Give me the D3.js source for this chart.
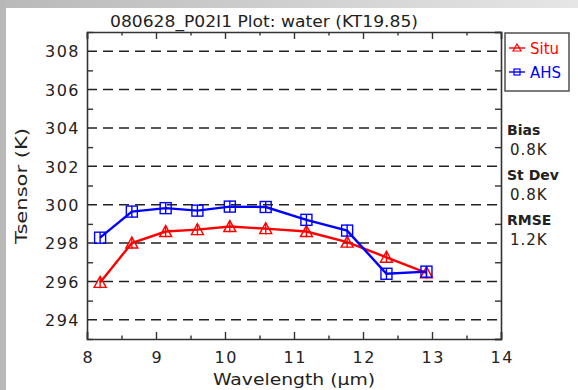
<!DOCTYPE html>
<html>
<head>
<meta charset="utf-8">
<script src="https://cdn.jsdelivr.net/npm/d3@7/dist/d3.min.js"></script>
<style>
  html, body { margin: 0; padding: 0; background: #fff; }
  svg { display: block; }
  text { font-family: "DejaVu Sans", sans-serif; fill: #222; }
</style>
</head>
<body>
<svg id="chart" width="578" height="390"></svg>
<script>
// Band wavelengths (µm) and brightness temperatures (K)
const wavelengths = [8.19, 8.65, 9.14, 9.60, 10.07, 10.59, 11.18, 11.77, 12.34, 12.92];
const situValues  = [295.95, 298.0, 298.6, 298.7, 298.86, 298.75, 298.6, 298.05, 297.26, 296.45];
const ahsValues   = [298.28, 299.64, 299.82, 299.69, 299.9, 299.88, 299.21, 298.65, 296.4, 296.51];
const situErr     = [0.3, 0.3, 0.3, 0.3, 0.3, 0.3, 0.3, 0.3, 0.3, 0.3];
const ahsErr      = [0.3, 0.3, 0.3, 0.3, 0.3, 0.3, 0.3, 0.3, 0.3, 0.3];
const xTicks = [8, 9, 10, 11, 12, 13, 14];
const yTicks = [294, 296, 298, 300, 302, 304, 306, 308];
const statLabels = ["Bias", "St Dev", "RMSE"];
const statValues = ["0.8K", "0.8K", "1.2K"];
const seriesNames = ["Situ", "AHS"];

const svg = d3.select("#chart");

// Window frame: grey strip on the left, grey gradient band on top
const defs = svg.append("defs");
const grad = defs.append("linearGradient").attr("id", "topband");
grad.append("stop").attr("offset", "0%").attr("stop-color", "#b9b9b9");
grad.append("stop").attr("offset", "100%").attr("stop-color", "#e6e6e6");
svg.append("rect").attr("x", 0).attr("y", 0).attr("width", 578).attr("height", 8).attr("fill", "url(#topband)");
svg.append("rect").attr("x", 0).attr("y", 0).attr("width", 6).attr("height", 390).attr("fill", "#b8b8b8");

const plotL = 87, plotR = 501, plotT = 32, plotB = 339;
const x = d3.scaleLinear().domain([8, 14]).range([plotL, plotR]);
const y = d3.scaleLinear().domain([293, 309]).range([plotB, plotT]);

// Dashed horizontal grid at the major temperatures
svg.append("g").selectAll("line").data(yTicks).join("line")
  .attr("x1", plotL).attr("x2", plotR)
  .attr("y1", d => y(d)).attr("y2", d => y(d))
  .attr("stroke", "#222").attr("stroke-width", 1.6)
  .attr("stroke-dasharray", "10,6");

// Axes with inward ticks
const axisColor = "#333";
const xMinor = d3.range(8.5, 14, 1);
const yMinor = d3.range(293, 310, 2);

const bottomAxis = svg.append("g").attr("transform", `translate(0,${plotB})`)
  .call(d3.axisBottom(x).tickValues(xTicks).tickSize(-7).tickFormat(d3.format("d")).tickPadding(12));
svg.append("g").attr("transform", `translate(0,${plotT})`)
  .call(d3.axisTop(x).tickValues(xTicks).tickSize(-7).tickFormat(""));
const leftAxis = svg.append("g").attr("transform", `translate(${plotL},0)`)
  .call(d3.axisLeft(y).tickValues(yTicks).tickSize(0).tickFormat(d3.format("d")).tickPadding(7));
svg.append("g").attr("transform", `translate(${plotR},0)`)
  .call(d3.axisRight(y).tickValues(yMinor).tickSize(-6).tickFormat(""));

svg.append("g").attr("transform", `translate(0,${plotB})`)
  .call(d3.axisBottom(x).tickValues(xMinor).tickSize(-3.5).tickFormat(""))
  .call(g => g.select(".domain").remove());
svg.append("g").attr("transform", `translate(0,${plotT})`)
  .call(d3.axisTop(x).tickValues(xMinor).tickSize(-3.5).tickFormat(""))
  .call(g => g.select(".domain").remove());
svg.append("g").attr("transform", `translate(${plotL},0)`)
  .call(d3.axisLeft(y).tickValues(yMinor).tickSize(-6).tickFormat(""))
  .call(g => g.select(".domain").remove());

svg.selectAll(".domain").attr("stroke", axisColor).attr("stroke-width", 1.6);
svg.selectAll(".tick line").attr("stroke", axisColor).attr("stroke-width", 1.4);
svg.selectAll(".tick text")
  .attr("font-family", "DejaVu Sans, sans-serif")
  .attr("font-size", 16).attr("fill", "#222").attr("letter-spacing", "1.5px");
leftAxis.selectAll(".tick text").attr("dy", "0.36em");
bottomAxis.selectAll(".tick text").attr("dy", "0.72em").attr("dx", "0.75px");

// Title and axis titles
svg.append("text").attr("x", 264).attr("y", 27).attr("text-anchor", "middle")
  .attr("font-size", 16).attr("textLength", 308).attr("lengthAdjust", "spacingAndGlyphs")
  .text("080628_P02I1 Plot: water (KT19.85)");
svg.append("text").attr("x", 294).attr("y", 385).attr("text-anchor", "middle")
  .attr("font-size", 16).attr("textLength", 162).attr("lengthAdjust", "spacingAndGlyphs")
  .text("Wavelength (\u03bcm)");
svg.append("text").attr("transform", "translate(27,186) rotate(-90)").attr("text-anchor", "middle")
  .attr("font-size", 16).attr("textLength", 116).attr("lengthAdjust", "spacingAndGlyphs")
  .text("Tsensor (K)");

// Series
const line = d3.line().x(d => x(d[0])).y(d => y(d[1]));
const series = [
  { name: seriesNames[0], color: "#ff0000", values: situValues, err: situErr, marker: "triangle" },
  { name: seriesNames[1], color: "#0000ff", values: ahsValues, err: ahsErr, marker: "square" }
];

function drawMarker(g, type, cx, cy, color) {
  if (type === "triangle") {
    g.append("path")
      .attr("d", `M${cx - 6},${cy + 5}L${cx + 6},${cy + 5}L${cx},${cy - 6}Z`)
      .attr("fill", "none").attr("stroke", color).attr("stroke-width", 1.4);
  } else {
    g.append("rect").attr("x", cx - 5.5).attr("y", cy - 5.5).attr("width", 11).attr("height", 11)
      .attr("fill", "none").attr("stroke", color).attr("stroke-width", 1.4);
  }
}

series.forEach(s => {
  const pts = wavelengths.map((w, i) => [w, s.values[i]]);
  const g = svg.append("g");
  g.append("path").datum(pts).attr("d", line)
    .attr("fill", "none").attr("stroke", s.color).attr("stroke-width", 2.4);
  // error bars
  g.selectAll("line.err").data(pts).join("line").attr("class", "err")
    .attr("x1", d => x(d[0])).attr("x2", d => x(d[0]))
    .attr("y1", (d, i) => y(d[1] - s.err[i])).attr("y2", (d, i) => y(d[1] + s.err[i]))
    .attr("stroke", s.color).attr("stroke-width", 1.4);
  pts.forEach(d => drawMarker(g, s.marker, x(d[0]), y(d[1]), s.color));
});

// Legend box
const lg = svg.append("g");
lg.append("rect").attr("x", 505).attr("y", 33).attr("width", 64).attr("height", 58)
  .attr("fill", "#fff").attr("stroke", "#444").attr("stroke-width", 1.4);
series.forEach((s, i) => {
  const ly = 48 + i * 24;
  lg.append("line").attr("x1", 509).attr("x2", 525).attr("y1", ly).attr("y2", ly)
    .attr("stroke", s.color).attr("stroke-width", 1.4);
  if (s.marker === "triangle") {
    lg.append("path").attr("d", `M${513},${ly + 3}L${521},${ly + 3}L${517},${ly - 4}Z`)
      .attr("fill", "none").attr("stroke", s.color).attr("stroke-width", 1.2);
  } else {
    lg.append("rect").attr("x", 514).attr("y", ly - 3).attr("width", 6).attr("height", 6)
      .attr("fill", "none").attr("stroke", s.color).attr("stroke-width", 1.2);
  }
  lg.append("text").attr("x", 530).attr("y", ly + 5.5).attr("font-size", 15)
    .style("fill", s.color).text(s.name);
});

// Statistics block
statLabels.forEach((lab, i) => {
  const by = 135 + i * 45;
  svg.append("text").attr("x", 507).attr("y", by).attr("font-size", 14)
    .attr("font-weight", "bold").attr("fill", "#111").text(lab);
  svg.append("text").attr("x", 510).attr("y", by + 20).attr("font-size", 15)
    .attr("letter-spacing", "1px").text(statValues[i]);
});
</script>
</body>
</html>
